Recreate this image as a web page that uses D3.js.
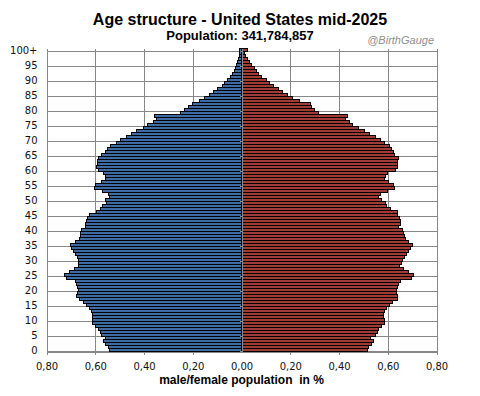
<!DOCTYPE html>
<html>
<head>
<meta charset="utf-8">
<script src="https://cdnjs.cloudflare.com/ajax/libs/d3/7.8.5/d3.min.js"></script>
<style>
  html, body { margin: 0; padding: 0; background: #fff; }
  svg { display: block; }
</style>
</head>
<body>
<svg id="pyramid" width="480" height="396"></svg>
<script>
// ages 0..100 (100 = 100+)
var ages = d3.range(0, 101);

// share of total population in %, index = age
var male = [
  0.540, 0.546, 0.556, 0.565, 0.556, 0.573, 0.580, 0.588, 0.600, 0.611,
  0.612, 0.612, 0.612, 0.614, 0.624, 0.637, 0.649, 0.665, 0.675, 0.671,
  0.669, 0.671, 0.676, 0.682, 0.717, 0.727, 0.706, 0.686, 0.669, 0.668,
  0.668, 0.673, 0.679, 0.690, 0.698, 0.702, 0.682, 0.665, 0.661, 0.661,
  0.657, 0.638, 0.641, 0.637, 0.630, 0.624, 0.596, 0.580, 0.570, 0.552,
  0.559, 0.543, 0.547, 0.571, 0.604, 0.600, 0.576, 0.559, 0.556, 0.567,
  0.588, 0.595, 0.592, 0.589, 0.586, 0.576, 0.559, 0.551, 0.539, 0.514,
  0.498, 0.472, 0.452, 0.429, 0.404, 0.384, 0.363, 0.350, 0.355, 0.252,
  0.232, 0.216, 0.199, 0.171, 0.151, 0.131, 0.114, 0.097, 0.080, 0.069,
  0.056, 0.046, 0.038, 0.030, 0.024, 0.019, 0.015, 0.012, 0.010, 0.008,
  0.008
];
var female = [
  0.516, 0.520, 0.532, 0.540, 0.528, 0.548, 0.556, 0.563, 0.573, 0.585,
  0.588, 0.584, 0.584, 0.586, 0.595, 0.608, 0.618, 0.641, 0.641, 0.635,
  0.634, 0.638, 0.644, 0.654, 0.698, 0.706, 0.684, 0.665, 0.649, 0.657,
  0.661, 0.668, 0.676, 0.686, 0.695, 0.702, 0.686, 0.671, 0.667, 0.664,
  0.661, 0.645, 0.654, 0.652, 0.648, 0.641, 0.641, 0.612, 0.593, 0.590,
  0.573, 0.563, 0.571, 0.597, 0.629, 0.624, 0.604, 0.586, 0.589, 0.601,
  0.630, 0.639, 0.638, 0.639, 0.646, 0.629, 0.622, 0.616, 0.608, 0.585,
  0.570, 0.548, 0.527, 0.505, 0.482, 0.457, 0.442, 0.426, 0.434, 0.316,
  0.299, 0.287, 0.283, 0.238, 0.208, 0.188, 0.167, 0.151, 0.132, 0.116,
  0.103, 0.083, 0.069, 0.063, 0.053, 0.042, 0.034, 0.024, 0.016, 0.012,
  0.026
];

var xTicks = [-0.8, -0.6, -0.4, -0.2, 0, 0.2, 0.4, 0.6, 0.8];
var yTickAges = [0, 5, 10, 15, 20, 25, 30, 35, 40, 45, 50, 55, 60, 65, 70, 75, 80, 85, 90, 95, 100];
var yTickLabels = ["0", "5", "10", "15", "20", "25", "30", "35", "40", "45", "50",
                   "55", "60", "65", "70", "75", "80", "85", "90", "95", "100+"];

var title = "Age structure - United States mid-2025";
var subtitle = "Population: 341,784,857";
var credit = "@BirthGauge";
var xTitle = "male/female population  in %";

var maleColor = "#3e6ba6";
var femaleColor = "#9f3c38";
var gridColor = "#878787";

var PLOT = { left: 46.5, right: 436.5, top: 48.5, bottom: 351.5 };

var svg = d3.select("#pyramid");

var xRange = d3.scaleLinear()
    .domain([-0.8, 0.8])
    .range([PLOT.left, PLOT.right]);
var yBand = d3.scaleBand()
    .domain(ages)
    .range([PLOT.bottom, PLOT.top])
    .padding(0);

var comma = d3.formatLocale({ decimal: ",", thousands: ".", grouping: [3], currency: ["", ""] });
var fmt = comma.format(".2f");

function lowerEdge(a) { return yBand(a) + yBand.bandwidth(); }

// grid
var grid = svg.append("g").attr("shape-rendering", "crispEdges");
grid.selectAll("line.h")
    .data(yTickAges)
  .enter().append("line")
    .attr("class", "h")
    .attr("x1", PLOT.left)
    .attr("x2", PLOT.right)
    .attr("y1", lowerEdge)
    .attr("y2", lowerEdge)
    .style("stroke", gridColor)
    .style("stroke-width", 1);
grid.selectAll("line.v")
    .data(xTicks.filter(function(d) { return d !== 0; }))
  .enter().append("line")
    .attr("class", "v")
    .attr("x1", function(d) { return Math.round(xRange(d)) + 0.5; })
    .attr("x2", function(d) { return Math.round(xRange(d)) + 0.5; })
    .attr("y1", PLOT.top)
    .attr("y2", PLOT.bottom + 3)
    .style("stroke", gridColor)
    .style("stroke-width", 1);

// bars
var bars = svg.append("g").attr("shape-rendering", "crispEdges");
bars.selectAll("rect.male")
    .data(ages)
  .enter().append("rect")
    .attr("class", "male")
    .attr("x", function(a) { return xRange(-male[a]); })
    .attr("y", function(a) { return yBand(a); })
    .attr("width", function(a) { return xRange(0) - xRange(-male[a]); })
    .attr("height", yBand.bandwidth())
    .style("fill", maleColor)
    .style("stroke", "#000")
    .style("stroke-width", 1);
bars.selectAll("rect.female")
    .data(ages)
  .enter().append("rect")
    .attr("class", "female")
    .attr("x", xRange(0))
    .attr("y", function(a) { return yBand(a); })
    .attr("width", function(a) { return xRange(female[a]) - xRange(0); })
    .attr("height", yBand.bandwidth())
    .style("fill", femaleColor)
    .style("stroke", "#000")
    .style("stroke-width", 1);

// centre axis with little ticks to the left
var cx = Math.round(xRange(0)) + 0.5;
var centre = svg.append("g").attr("shape-rendering", "crispEdges");
centre.append("line")
    .attr("x1", cx).attr("x2", cx)
    .attr("y1", PLOT.top).attr("y2", PLOT.bottom)
    .style("stroke", gridColor);
centre.selectAll("line.tick")
    .data(yTickAges)
  .enter().append("line")
    .attr("class", "tick")
    .attr("x1", cx - 3).attr("x2", cx)
    .attr("y1", lowerEdge).attr("y2", lowerEdge)
    .style("stroke", gridColor);

// x axis
var xAxis = d3.axisBottom(xRange)
    .tickValues(xTicks)
    .tickSize(0)
    .tickSizeOuter(0)
    .tickPadding(11)
    .tickFormat(function(d) { return fmt(Math.abs(d)); });
var gx = svg.append("g")
    .attr("transform", "translate(0," + PLOT.bottom + ")")
    .call(xAxis);
gx.select(".domain")
    .attr("shape-rendering", "crispEdges")
    .style("stroke", gridColor);
gx.selectAll("text")
    .style("font-family", "'DejaVu Sans', Verdana, sans-serif")
    .style("font-size", "10px")
    .style("fill", "#111");

// y labels
svg.append("g").selectAll("text")
    .data(yTickAges)
  .enter().append("text")
    .attr("x", 37.5)
    .attr("y", function(a) { return yBand(a) + yBand.bandwidth() / 2; })
    .attr("dy", "0.36em")
    .attr("text-anchor", "end")
    .style("font-family", "'DejaVu Sans', Verdana, sans-serif")
    .style("font-size", "10px")
    .style("fill", "#111")
    .text(function(a, i) { return yTickLabels[i]; });

// titles
svg.append("text")
    .attr("x", 240).attr("y", 25)
    .attr("text-anchor", "middle")
    .style("font-family", "'Liberation Sans', Arial, sans-serif")
    .style("font-weight", "bold")
    .style("font-size", "16px")
    .text(title);
svg.append("text")
    .attr("x", 240).attr("y", 40)
    .attr("text-anchor", "middle")
    .style("font-family", "'Liberation Sans', Arial, sans-serif")
    .style("font-weight", "bold")
    .style("font-size", "13px")
    .text(subtitle);
svg.append("text")
    .attr("x", 434).attr("y", 44)
    .attr("text-anchor", "end")
    .style("font-family", "'Liberation Sans', Arial, sans-serif")
    .style("font-style", "italic")
    .style("font-size", "11px")
    .style("fill", "#8f8f8f")
    .text(credit);
svg.append("text")
    .attr("x", 241.5).attr("y", 384)
    .attr("text-anchor", "middle")
    .style("font-family", "'Liberation Sans', Arial, sans-serif")
    .style("font-weight", "bold")
    .style("font-size", "12px")
    .style("white-space", "pre")
    .text(xTitle);
</script>
</body>
</html>
